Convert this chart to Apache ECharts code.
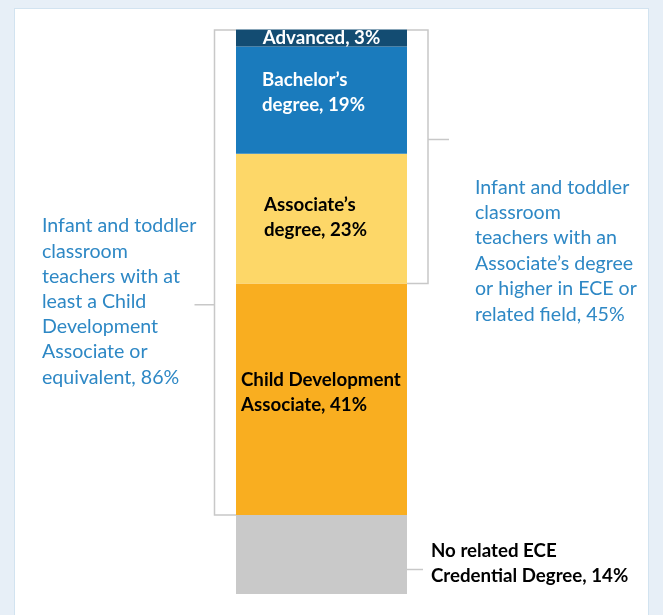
<!DOCTYPE html>
<html>
<head>
<meta charset="utf-8">
<script src="https://cdn.jsdelivr.net/npm/echarts@6/dist/echarts.min.js"></script>
<style>
  html, body { margin: 0; padding: 0; width: 663px; height: 615px; overflow: hidden; background: #e7eff7; }
  #panel { position: absolute; left: 14px; top: 8px; width: 633px; height: 640px; background: #ffffff; border: 1px solid #d2e3f0; }
  #chart { position: absolute; left: 0; top: 0; width: 663px; height: 615px; }
</style>
</head>
<body>
<div id="panel"></div>
<div id="chart"></div>
<script>
// Credential levels of infant and toddler classroom teachers, stacked bottom to top
const categories = ['Infant and toddler classroom teachers'];
const segmentNames = ['No related ECE Credential Degree', 'Child Development Associate', 'Associate’s degree', 'Bachelor’s degree', 'Advanced'];
const segmentValues = [14, 41, 23, 19, 3];
const segmentLabels = [
  'No related ECE\nCredential Degree, 14%',
  'Child Development\nAssociate, 41%',
  'Associate’s\ndegree, 23%',
  'Bachelor’s\ndegree, 19%',
  'Advanced, 3%'
];
const segmentColors = ['#c9c9c9', '#f9ae20', '#fdd768', '#1a7bbd', '#134c72'];

// Group brackets: [from value, to value, caption]
const groupCDA = [14, 100, 'Infant and toddler\nclassroom\nteachers with at\nleast a Child\nDevelopment\nAssociate or\nequivalent, 86%'];
const groupAssoc = [55, 100, 'Infant and toddler\nclassroom\nteachers with an\nAssociate’s degree\nor higher in ECE or\nrelated field, 45%'];

const FONT = 'Lato, "Open Sans", sans-serif';
const BAR_LEFT = 236, BAR_RIGHT = 407;

// label placement inside each segment
const labelPlace = [
  { position: [195, 49], align: 'left', color: '#000000' },
  { position: [5, '47%'], align: 'left', color: '#000000' },
  { position: [28, '49%'], align: 'left', color: '#000000' },
  { position: [26, '43%'], align: 'left', color: '#ffffff' },
  { position: ['50%', '50%'], align: 'center', color: '#ffffff' }
];

const series = segmentValues.map((v, i) => ({
  name: segmentNames[i],
  type: 'bar',
  stack: 'total',
  barWidth: '100%',
  data: [v],
  itemStyle: { color: segmentColors[i] },
  label: {
    show: true,
    formatter: segmentLabels[i],
    position: labelPlace[i].position,
    align: labelPlace[i].align,
    verticalAlign: 'middle',
    color: labelPlace[i].color,
    fontFamily: FONT,
    fontWeight: 'bold',
    fontSize: 18.7,
    lineHeight: 25
  },
  emphasis: { disabled: true },
  silent: true
}));

const chart = echarts.init(document.getElementById('chart'), null, { renderer: 'canvas' });
chart.setOption({
  animation: false,
  grid: { left: BAR_LEFT, right: 663 - BAR_RIGHT, top: 29.5, bottom: 21 },
  xAxis: { type: 'category', data: categories, show: false },
  yAxis: { type: 'value', min: 0, max: 100, show: false },
  series: series
});

// Brackets and captions, positioned from the value scale
const yPx = v => chart.convertToPixel({ yAxisIndex: 0 }, v);
const lineStyle = { stroke: '#c8c8c8', lineWidth: 1.5, fill: null };

const lTop = yPx(groupCDA[1]), lBot = yPx(groupCDA[0]);
const lX = BAR_LEFT - 21.5;
const lTick = lTop + (lBot - lTop) * 0.567;

const rTop = yPx(groupAssoc[1]), rBot = yPx(groupAssoc[0]);
const rX = BAR_RIGHT + 21;
const rTick = rTop + (rBot - rTop) * 0.433;

const gTop = yPx(segmentValues[0]), gBot = yPx(0);
const gTick = gTop + (gBot - gTop) * 0.69;

chart.setOption({
  graphic: [
    { type: 'polyline', z: 10, shape: { points: [[BAR_LEFT, lTop + 0.5], [lX, lTop + 0.5], [lX, lBot], [BAR_LEFT, lBot]] }, style: lineStyle },
    { type: 'line', z: 10, shape: { x1: lX, y1: lTick, x2: lX - 20, y2: lTick }, style: lineStyle },
    { type: 'polyline', z: 10, shape: { points: [[BAR_RIGHT, rTop + 0.5], [rX, rTop + 0.5], [rX, rBot], [BAR_RIGHT, rBot]] }, style: lineStyle },
    { type: 'line', z: 10, shape: { x1: rX, y1: rTick, x2: rX + 21, y2: rTick }, style: lineStyle },
    { type: 'line', z: 10, shape: { x1: BAR_RIGHT, y1: gTick, x2: BAR_RIGHT + 16, y2: gTick }, style: lineStyle },
    {
      type: 'text', z: 10, x: 42, y: 213.5,
      style: { text: groupCDA[2], fill: '#2e88c5', font: '19.6px ' + FONT, lineHeight: 25.2, verticalAlign: 'top', align: 'left' }
    },
    {
      type: 'text', z: 10, x: 475, y: 174.5,
      style: { text: groupAssoc[2], fill: '#2e88c5', font: '19.6px ' + FONT, lineHeight: 25.4, verticalAlign: 'top', align: 'left' }
    }
  ]
});
</script>
</body>
</html>
